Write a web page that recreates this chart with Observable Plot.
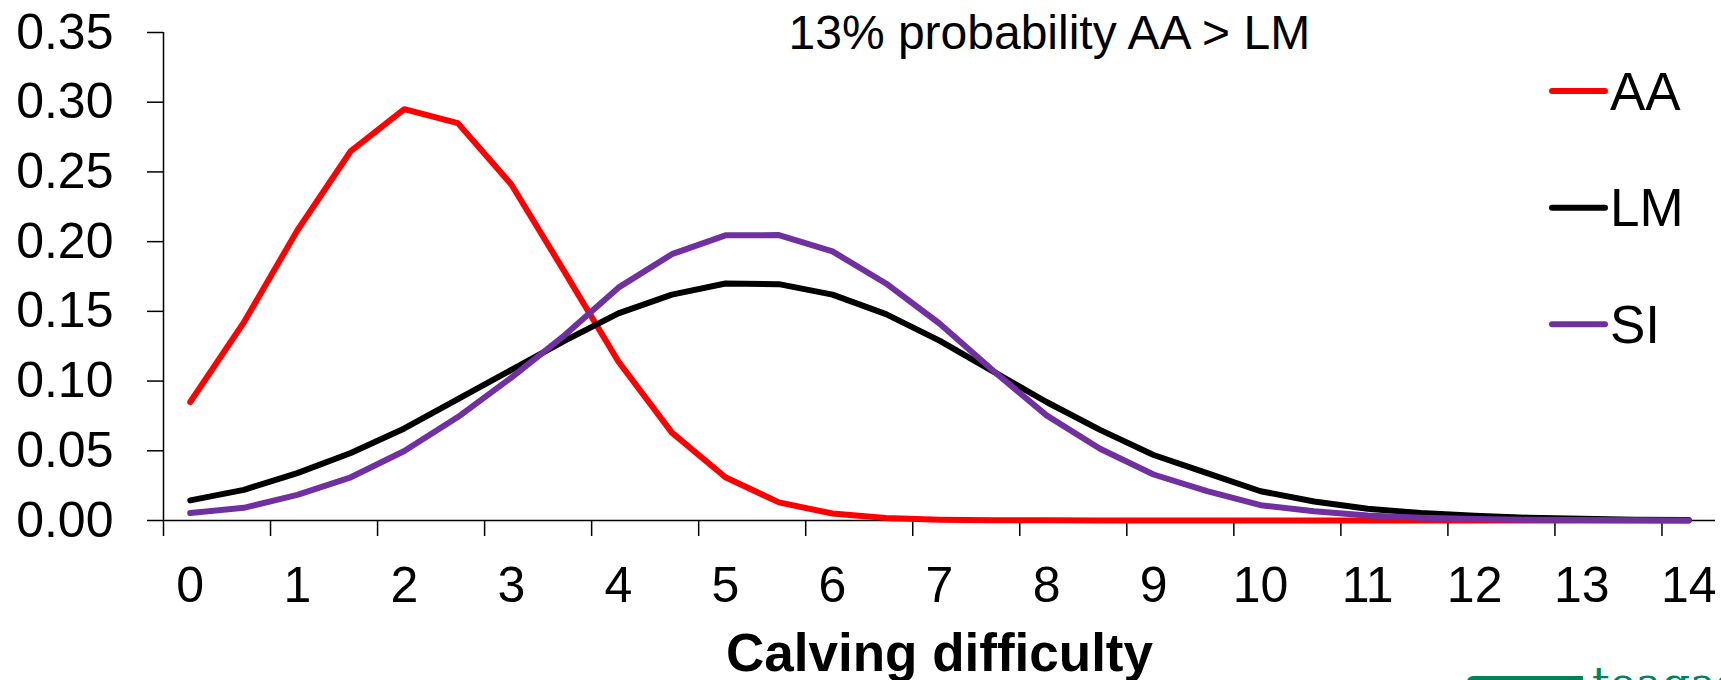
<!DOCTYPE html>
<html>
<head>
<meta charset="utf-8">
<script src="https://cdn.jsdelivr.net/npm/d3@7"></script>
<script src="https://cdn.jsdelivr.net/npm/@observablehq/plot@0.6"></script>
<style>
  html, body { margin: 0; padding: 0; background: #fff; overflow: hidden; width: 1721px; height: 680px; }
  #chart { position: relative; width: 1721px; height: 680px; overflow: hidden; }
  #logo-bar { position: absolute; left: 1467px; top: 676px; width: 116px; height: 12px; background: #00825a; border-radius: 6px 0 0 0; }
  #logo-text { position: absolute; left: 1592px; top: 662px; font: 44px "DejaVu Serif", serif; color: #00825a; line-height: 44px; white-space: nowrap; }
</style>
</head>
<body>
<div id="chart"></div>
<script>
// ---- data ----
const categories = [0, 0.5, 1, 1.5, 2, 2.5, 3, 3.5, 4, 4.5, 5, 5.5, 6, 6.5, 7, 7.5, 8, 8.5, 9, 9.5, 10, 10.5, 11, 11.5, 12, 12.5, 13, 13.5, 14];
const seriesNames = ["AA", "LM", "SI"];
const seriesColors = ["#ff0000", "#000000", "#7030a0"];
const AA = [0.085, 0.142, 0.208, 0.265, 0.295, 0.285, 0.241, 0.178, 0.114, 0.063, 0.031, 0.013, 0.005, 0.0018, 0.0006, 0.0002, 0.0001, 0, 0, 0, 0, 0, 0, 0, 0, 0, 0, 0, 0];
const LM = [0.0144, 0.022, 0.034, 0.0484, 0.066, 0.087, 0.108, 0.129, 0.1485, 0.162, 0.170, 0.1695, 0.162, 0.148, 0.129, 0.107, 0.085, 0.065, 0.047, 0.034, 0.021, 0.0136, 0.0084, 0.0053, 0.0034, 0.002, 0.0012, 0.0006, 0.0003];
const SI = [0.0053, 0.0091, 0.0184, 0.031, 0.0498, 0.0742, 0.1025, 0.133, 0.167, 0.191, 0.2045, 0.2047, 0.193, 0.170, 0.1413, 0.1075, 0.0754, 0.0515, 0.033, 0.021, 0.011, 0.0067, 0.0036, 0.002, 0.001, 0.0006, 0.0003, 0.0001, 0];
const xLabelTicks = [0, 1, 2, 3, 4, 5, 6, 7, 8, 9, 10, 11, 12, 13, 14];
const xTickMarks = [-0.25, 0.75, 1.75, 2.75, 3.75, 4.75, 5.75, 6.75, 7.75, 8.75, 9.75, 10.75, 11.75, 12.75, 13.75];
const yTicks = [0, 0.05, 0.10, 0.15, 0.20, 0.25, 0.30, 0.35];
const titleText = "13% probability AA > LM";
const xTitle = "Calving difficulty";

// ---- build table ----
const valuesBySeries = {AA, LM, SI};
const rows = [];
seriesNames.forEach(s => categories.forEach((c, i) => rows.push({series: s, x: c, y: valuesBySeries[s][i]})));

const font = "'Liberation Sans', Arial, Helvetica, sans-serif";

const lineMarks = seriesNames.map((s, k) =>
  Plot.line(rows.filter(r => r.series === s), {
    x: "x", y: "y", stroke: seriesColors[k], strokeWidth: 6,
    strokeLinejoin: "round", strokeLinecap: "round"
  })
);

const chart = Plot.plot({
  width: 1721,
  height: 680,
  marginLeft: 163,
  marginRight: 6,
  marginTop: 32,
  marginBottom: 160,
  style: {fontFamily: font, background: "#fff", color: "#000", overflow: "visible"},
  x: {domain: [-0.25, 14.25]},
  y: {domain: [0, 0.35]},
  marks: [
    Plot.axisY({ticks: yTicks, tickSize: 16, tickPadding: 34, tickFormat: d => d.toFixed(2), fontSize: 50, label: null, strokeWidth: 1.5, stroke: "#000"}),
    Plot.axisX({ticks: xTickMarks, tickSize: 16, tickFormat: () => "", label: null, strokeWidth: 1.5, stroke: "#000"}),
    Plot.axisX({ticks: xLabelTicks, tickSize: 0, tickPadding: 46, fontSize: 50, label: null, tickFormat: d => String(d)}),
    Plot.ruleX([-0.25], {stroke: "#000", strokeWidth: 1.5}),
    Plot.ruleY([0], {stroke: "#000", strokeWidth: 1.5}),
    ...lineMarks,
    Plot.text([titleText], {frameAnchor: "top-left", dx: 625, dy: 16, textAnchor: "start", lineAnchor: "bottom", fontSize: 48, fill: "#000"}),
    Plot.text([xTitle], {frameAnchor: "bottom", dy: 150, lineAnchor: "bottom", fontSize: 53, fontWeight: "bold", fill: "#000"})
  ]
});

// legend (swatch lines + labels) at the right
const svg = d3.select(chart);
const legendY = [91, 207.7, 324.3];
const lg = svg.append("g").attr("font-family", font).attr("font-size", 53).attr("text-anchor", "start");
seriesNames.forEach((s, i) => {
  lg.append("line")
    .attr("x1", 1552).attr("x2", 1605)
    .attr("y1", legendY[i]).attr("y2", legendY[i])
    .attr("stroke", seriesColors[i]).attr("stroke-width", 6).attr("stroke-linecap", "round");
  lg.append("text")
    .attr("x", 1610).attr("y", legendY[i] + 18.5)
    .attr("fill", "#000")
    .attr("text-anchor", "start")
    .text(s);
});

const container = document.getElementById("chart");
container.appendChild(chart);
const bar = document.createElement("div"); bar.id = "logo-bar"; container.appendChild(bar);
const lt = document.createElement("div"); lt.id = "logo-text"; lt.textContent = "teagasc"; container.appendChild(lt);
</script>
</body>
</html>
